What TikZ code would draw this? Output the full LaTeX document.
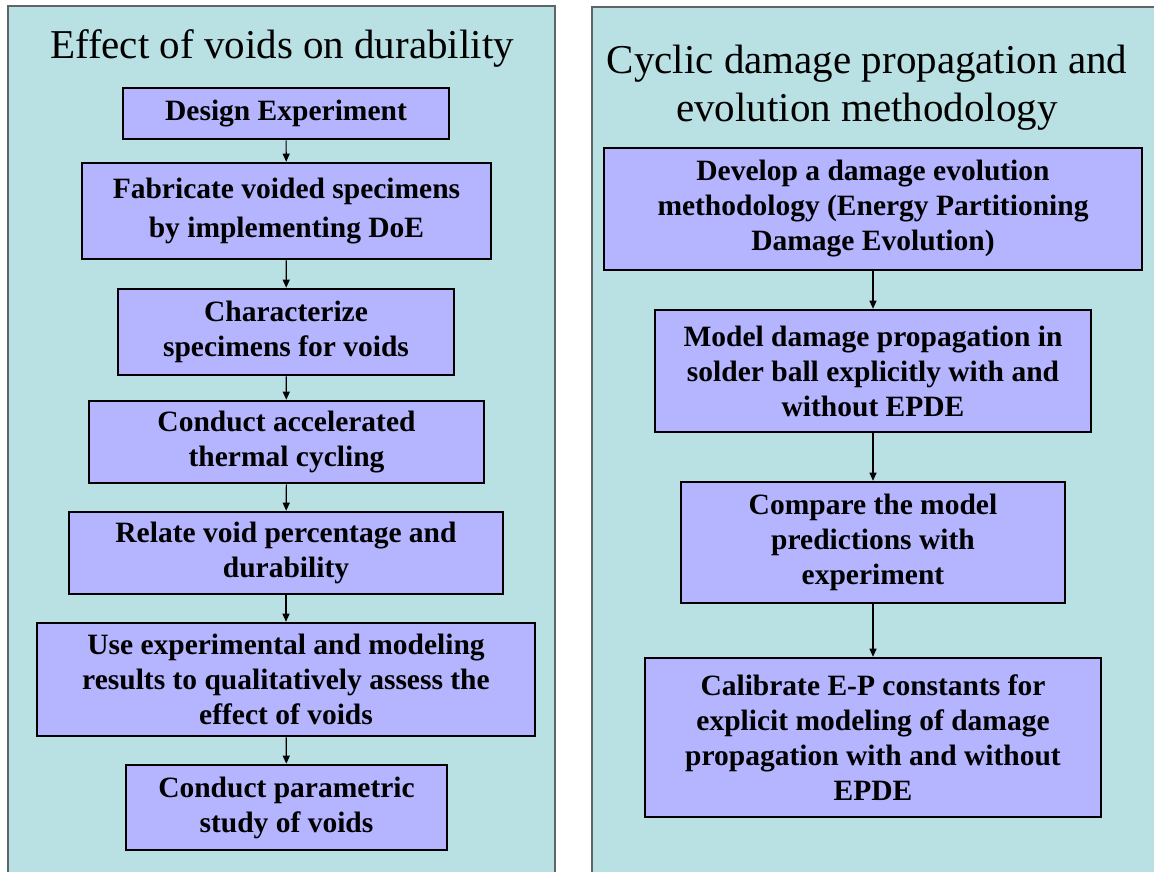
\documentclass[tikz,border=0pt]{standalone}
\usepackage{xcolor}
\usepackage{fontspec}
\setmainfont{Liberation Serif}
\usepackage{tikz}
\usetikzlibrary{arrows.meta,positioning}
\definecolor{panelbg}{HTML}{B9E0E3}
\definecolor{boxbg}{HTML}{B4B4FF}
\definecolor{panelrule}{HTML}{5F6466}

\begin{document}
\begin{tikzpicture}[
  x=1pt, y=-1pt,
  box/.style={draw=black, line width=2.6pt, fill=boxbg, align=center, inner sep=2pt,
    font=\bfseries\fontsize{29.5}{35}\selectfont},
  heading/.style={align=center, font=\fontsize{41}{48}\selectfont},
  arrow/.style={-{Triangle[length=8pt,width=7pt]}, line width=1.1pt}
]
\useasboundingbox (0,0) rectangle (1154,871);
% panels
\fill[panelbg] (8,6) rectangle (555,880);
\draw[panelrule, line width=1.6pt] (8,880) -- (8,6) -- (555,6) -- (555,880);
\fill[panelbg] (592,7) rectangle (1160,880);
\draw[panelrule, line width=1.6pt] (592,880) -- (592,7) -- (1160,7);

% left column
\node[heading] (lefttitle) at (282,48) {Effect of voids on durability};
\node[box, minimum width=326pt, minimum height=51pt] (design) at (286,113.5) {Design Experiment};
\node[box, minimum width=409pt, minimum height=96pt] (fabricate) at (286.5,211) {Fabricate voided specimens\\[4pt]by implementing DoE};
\node[box, minimum width=336pt, minimum height=86pt] (characterize) at (286,332) {Characterize\\specimens for voids};
\node[box, minimum width=395pt, minimum height=82pt] (cycling) at (286.5,442) {Conduct accelerated\\thermal cycling};
\node[box, minimum width=434pt, minimum height=82pt] (relate) at (286,553) {Relate void percentage and\\durability};
\node[box, minimum width=498pt, minimum height=113pt] (assess) at (286,679.5) {Use experimental and modeling\\results to qualitatively assess the\\effect of voids};
\node[box, minimum width=321pt, minimum height=85pt] (parametric) at (286.5,807.5) {Conduct parametric\\study of voids};

% right column
\node[heading] (righttitle) at (867,88) {Cyclic damage propagation and\\evolution methodology};
\node[box, minimum width=538pt, minimum height=122pt] (develop) at (873,209) {Develop a damage evolution\\methodology (Energy Partitioning\\Damage Evolution)};
\node[box, minimum width=436pt, minimum height=122pt] (model) at (873,371) {Model damage propagation in\\solder ball explicitly with and\\without EPDE};
\node[box, minimum width=384pt, minimum height=121pt] (compare) at (873,542.5) {Compare the model\\predictions with\\experiment};
\node[box, minimum width=456pt, minimum height=159pt] (calibrate) at (873,737.5) {Calibrate E-P constants for\\explicit modeling of damage\\propagation with and without\\EPDE};

\draw[arrow] (design) -- (fabricate);
\draw[arrow] (fabricate) -- (characterize);
\draw[arrow] (characterize) -- (cycling);
\draw[arrow] (cycling) -- (relate);
\draw[arrow] (relate) -- (assess);
\draw[arrow] (assess) -- (parametric);
\draw[arrow] (develop) -- (model);
\draw[arrow] (model) -- (compare);
\draw[arrow] (compare) -- (calibrate);
\end{tikzpicture}
\end{document}
